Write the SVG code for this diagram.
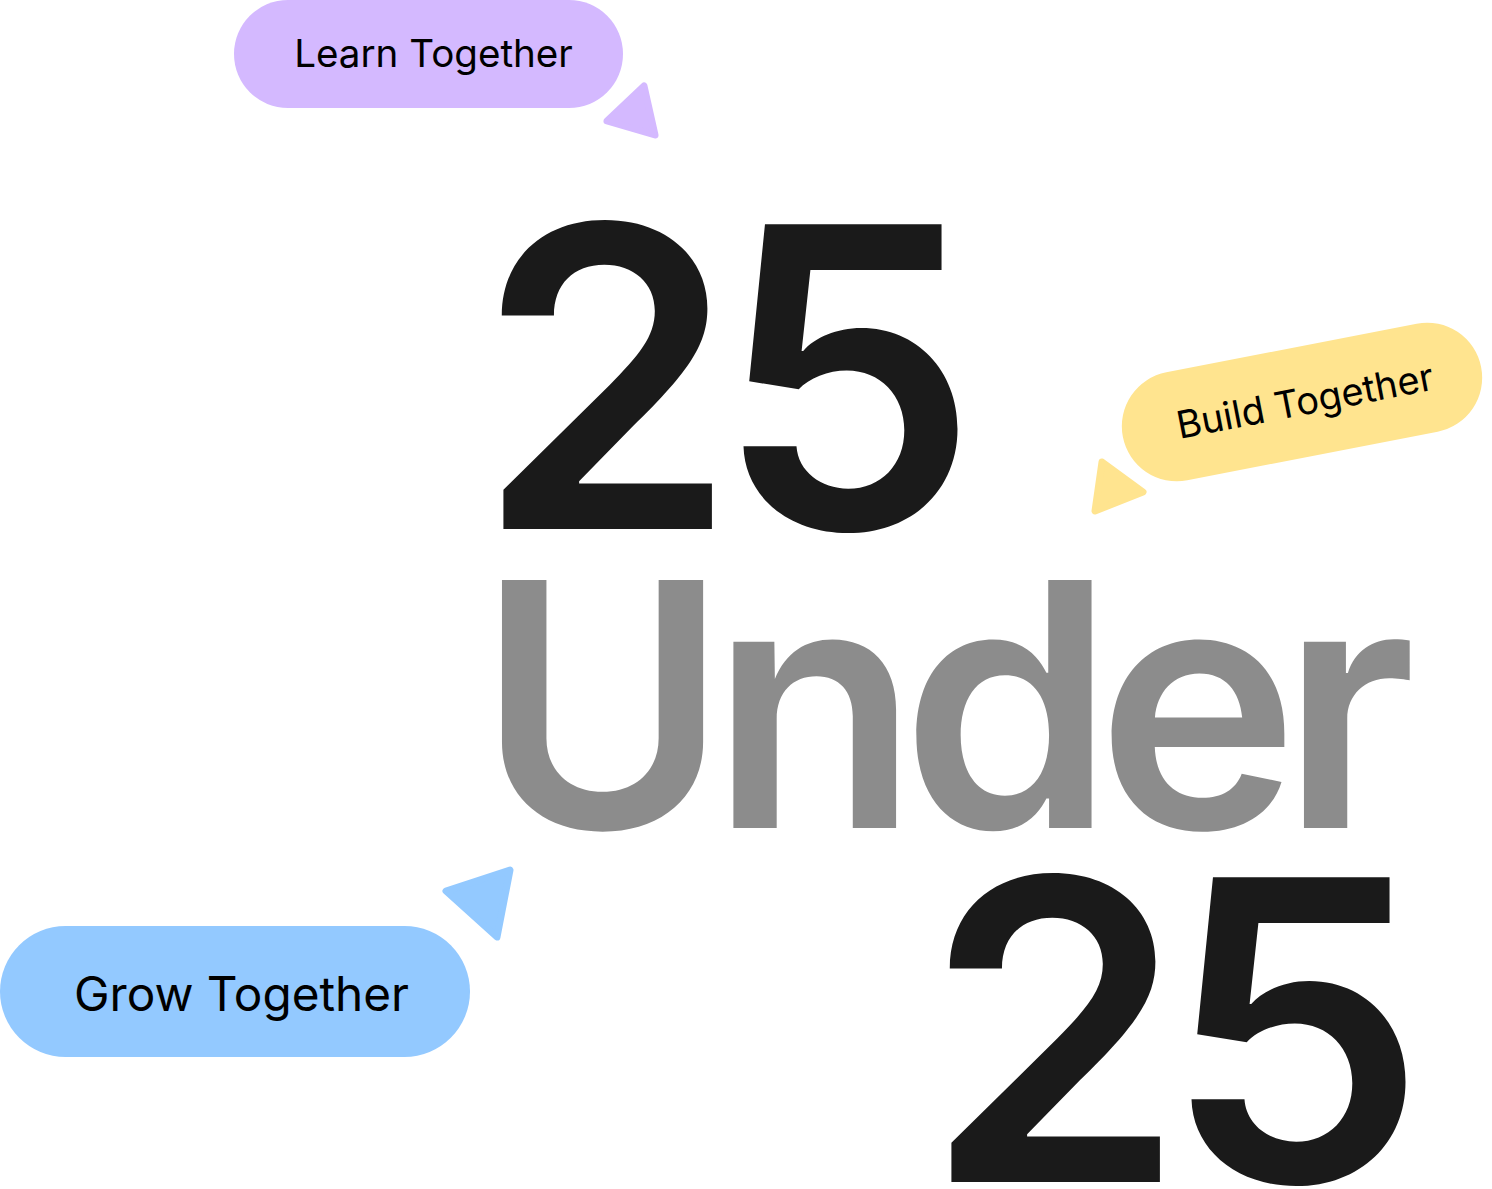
<svg xmlns="http://www.w3.org/2000/svg" width="1492" height="1189" viewBox="0 0 1492 1189">
<style>
.big{font-family:Inter,"Noto Sans",sans-serif;font-weight:600;}
.lbl{font-family:Inter,"Noto Sans",sans-serif;font-weight:400;fill:#000;}
.tri{stroke-linejoin:round;stroke-width:7;}
</style>
<rect width="1492" height="1189" fill="#fff"/>
<g id="title">
<text class="big" x="476" y="529" font-size="419" fill="#1a1a1a" letter-spacing="-22">25</text>
<text class="big" x="477" y="828" font-size="341" fill="#8c8c8c" letter-spacing="-17.5">Under</text>
<text class="big" x="924" y="1182" font-size="419" fill="#1a1a1a" letter-spacing="-22">25</text>
</g>
<g id="learn">
<rect x="234" y="0" width="389" height="108" rx="54" fill="#d4b9ff"/>
<text class="lbl" x="433.5" y="67" font-size="38.6" text-anchor="middle">Learn Together</text>
<polygon class="tri" points="644,86 655,135 607,121" fill="#d4b9ff" stroke="#d4b9ff"/>
</g>
<g id="build">
<g transform="translate(1302,402) rotate(-11)">
<rect x="-182.5" y="-55" width="365" height="110" rx="55" fill="#ffe48f"/>
<text class="lbl" x="3" y="13" font-size="38" text-anchor="middle">Build Together</text>
</g>
<polygon class="tri" points="1102,462 1143,492 1095,511" fill="#ffe48f" stroke="#ffe48f"/>
</g>
<g id="grow">
<rect x="0" y="926" width="470" height="131" rx="65.5" fill="#93c9ff"/>
<text class="lbl" x="241.5" y="1011" font-size="47.7" text-anchor="middle">Grow Together</text>
<polygon class="tri" points="446,891 510,870 497,937" fill="#93c9ff" stroke="#93c9ff"/>
</g>
<g id="connectors"></g>
</svg>
